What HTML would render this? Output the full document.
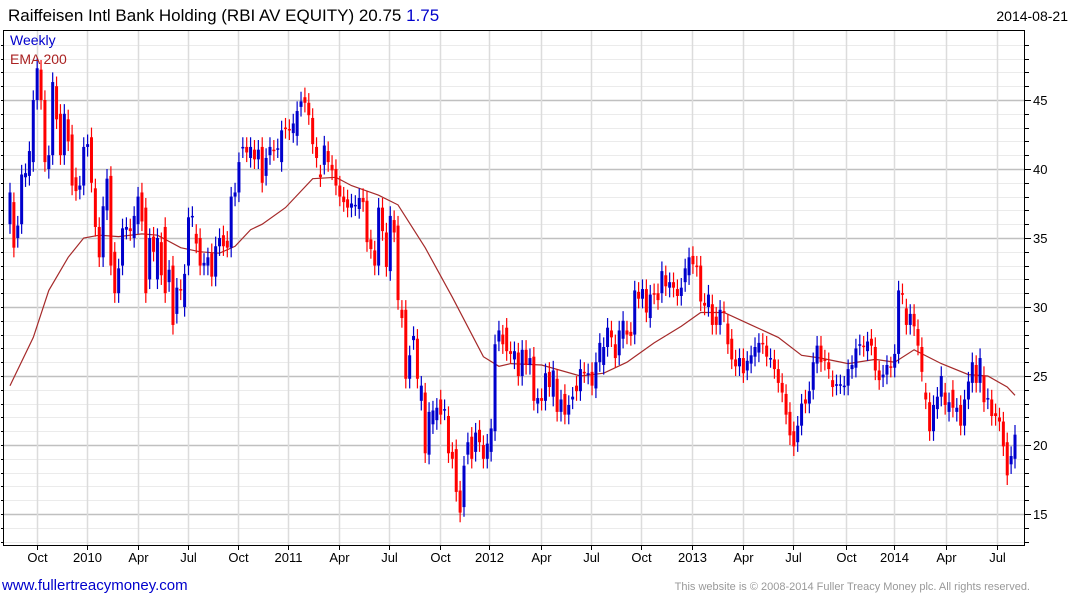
<!DOCTYPE html>
<html><head><meta charset="utf-8"><style>
body{margin:0;background:#fff;width:1075px;height:600px;overflow:hidden;font-family:"Liberation Sans",sans-serif}
#c{position:absolute;left:0;top:0}
</style></head><body>
<svg id="c" width="1075" height="600" font-family="Liberation Sans, sans-serif">
<text x="8" y="21" font-size="17" fill="#000">Raiffeisen Intl Bank Holding (RBI AV EQUITY) 20.75 <tspan fill="#0000cc">1.75</tspan></text>
<text x="1068" y="21" font-size="14" text-anchor="end" fill="#000">2014-08-21</text>
<g id="grid"></g>
<g id="ema"></g>
<g id="candles"></g>
<rect x="3.5" y="30.5" width="1021" height="515" fill="none" stroke="#000"/>
<g id="axes"></g>
<text x="10" y="45" font-size="14" fill="#0000cc">Weekly</text>
<text x="10" y="64" font-size="14" fill="#aa2222">EMA 200</text>
<text x="2" y="590" font-size="15" fill="#0000cc">www.fullertreacymoney.com</text>
<text x="1030" y="590" font-size="11" fill="#999" text-anchor="end">This website is © 2008-2014 Fuller Treacy Money plc. All rights reserved.</text>
</svg>
<script>
const opens=[36,37.6,35,36,39.4,39.5,40.5,45,47.2,45,40,41,46,44,41,43.6,42.5,39.4,38.5,38.8,41.6,42.3,38.6,35.8,33.6,37,39.5,34,31,33,35.6,35.7,35,36,38.3,37.2,32,35.1,32,34.7,35.8,31.8,33,29.5,31.3,30,33,36.5,35.3,35,33,33,33.9,32.2,34.4,35.2,34.8,34.3,38,38.3,41.5,41.6,40.8,41.4,40.7,41.6,39.5,41,41.4,41.5,40.5,43,42.9,42.6,42.4,44.5,45.2,44.8,43.7,41.6,39.6,40.3,41.3,40.3,40,38.8,38,37.8,37.2,37.3,37.1,37.9,37.7,34.9,34.1,33,37.2,35.4,32.6,36.3,35.9,29.8,29.8,24.8,27.6,27.7,23.2,23.8,19.3,21.5,21.8,23.3,22.5,22.1,19.5,19.7,16.7,15.5,19.3,20.6,19.5,21.1,20,19,19.5,21,27.5,28,28.5,26.8,26.2,26.7,25,26.9,25.8,26.4,23,23.4,23.2,25.3,23.5,24.8,22.4,23.7,22.2,23.3,24.3,23.9,25.3,25.1,25.3,24.1,26,25.8,27.1,28.3,27.3,26.5,27.7,28.3,28.2,28,31.1,30.6,31.3,29.2,31,31,31,32.3,31.4,31.8,31.3,30.8,31.8,32.3,33.7,33,33,30.3,30,30.2,29.3,28.7,29.7,28.8,27.7,26.2,25.7,26.3,25.4,25.9,26.4,26.7,27.4,27.2,26.3,26.2,25.5,24.5,23.7,22.4,21,20.2,21.4,23.3,23,24,25.9,27.2,26.2,26,24.7,24.3,24.4,24.3,24.3,25.5,25.6,27.2,27.2,26.8,27.7,27.1,25.4,24.9,25.1,25.7,25.6,26.6,31,29.9,28.7,29.5,28.4,27.1,23.8,23.1,21,22.6,23.5,23.8,22.4,24,22.4,22.9,21.4,23.3,24.5,25.8,24.5,25,23.3,23.3,22.3,22,21.7,20.2,18.6,19];
const closes=[38.3,34.3,35.9,39.6,39.7,41.3,45,47.3,45,40.5,41,46.3,43.6,41,44,42,38.8,38.4,38.8,41.6,41.8,39,35.8,33.6,37.3,39.3,33,31,32.8,35.7,35.8,35.5,36.6,38,36.2,31,35,34,35,32.3,31,32.7,28.7,31.4,31.2,32.4,36.5,36.6,34.6,33,33.2,33.6,32.2,34.4,35,34.4,34.3,38,38.3,40.5,41.6,41.2,41.6,40.7,41.4,39,40.8,41.6,41.3,41.5,42.8,42.9,42.8,43.3,44.2,44.9,44.8,43.9,41.8,40.8,39.4,41.7,40.5,39.9,38.8,38,37.6,37.2,37.5,37.4,37.9,37.6,34.7,34.2,33,37.2,35.5,32.9,36.6,35.4,30.5,29.2,24.8,26.5,27.9,24.8,24.3,19.4,22.4,22.5,22.7,22.2,22.6,19.4,19,16.6,15.1,18.5,20.2,19,20.9,20.2,19,20.1,21.2,27.3,28.3,27.3,26.8,26.6,26.8,25,26.9,25.8,26.3,23.2,23.4,23.2,25.2,24.2,25.4,22.4,23.3,22.2,22.9,23.5,23.9,25.5,25.2,25.2,24.3,26,27.4,27.1,28.5,27.8,26.3,28.3,29,28,27.9,31.2,30.6,31.3,29.6,30.9,30.9,30.5,32.6,31.5,31.8,31.4,30.8,31.4,32.8,33.6,33.1,32.9,30.4,30.1,30.9,28.7,28.7,29.8,29.6,27.3,26.2,25.7,26.3,25.2,26.1,26.5,27.1,27.4,27.3,26.4,26.3,25.5,24.5,23.8,22.2,20.7,19.9,21.4,23,23,23.9,26,27.2,26,26.1,25.5,24.2,24.4,24.4,24.3,25.5,25.8,27,27.3,27.1,27.5,27.2,25.4,24.7,25.1,25.8,25.6,26.6,31.2,30.9,28.7,29.5,28.6,27.2,25.3,23.3,21,22.9,23.5,25,22.9,23.1,22.7,22.7,21.4,23.3,24.6,26,24.5,26.3,23.1,23.4,22.1,22.1,21.7,19.9,17.8,19.2,20.75];
const emaIdx=[0,6,10,15,19,23,28,34,38,44,49,54,58,62,65,71,78,84,88,95,100,107,114,122,126,129,137,147,153,159,166,173,178,184,191,198,204,209,216,223,228,233,240,247,252,257,259];
const emaVals=[24.3,27.8,31.2,33.6,35,35.2,35.1,35.3,35.2,34.3,34,33.9,34.4,35.6,36,37.2,39.3,39.4,38.8,38.1,37.4,34.3,30.7,26.4,25.7,25.9,25.8,25,25.2,26,27.4,28.6,29.6,29.6,28.7,27.8,26.5,26.3,25.9,26.2,26,26.9,25.9,25.1,25,24.2,23.6];
const yTicks=[15,20,25,30,35,40,45];
const xTickIdx=[7,19.9,32.9,45.8,58.7,71.7,84.9,97.8,110.7,123.4,136.9,149.8,162.7,175.7,188.9,201.8,215.5,227.9,241.1,254.3];
const xTickLabels=["Oct","2010","Apr","Jul","Oct","2011","Apr","Jul","Oct","2012","Apr","Jul","Oct","2013","Apr","Jul","Oct","2014","Apr","Jul"];

const NS="http://www.w3.org/2000/svg";
const L=4,R=1025,T=30,B=545;
const n=closes.length;
const xs=i=>10+i*(1005/(n-1));
const ys=p=>514-(p-15)*13.8;
function mk(tag,at,par){const e=document.createElementNS(NS,tag);for(const k in at)e.setAttribute(k,at[k]);par.appendChild(e);return e;}
const grid=document.getElementById('grid'),axes=document.getElementById('axes');
for(let p=13;p<=49;p++){const y=Math.round(ys(p))+0.5;if(y<T||y>B)continue;
 const major=p%5===0;
 const g=mk('line',{x1:L,x2:R,y1:y,y2:y,stroke:major?'#c0c0c0':'#ebebeb','stroke-width':major?1.5:1},grid);
 
 
 const t1=mk('line',{x1:R,x2:R+(major?6:4),y1:y,y2:y,stroke:'#000'},axes);
 
 
 const t2=mk('line',{x1:L,x2:L-3,y1:y,y2:y,stroke:'#000'},axes);
 
 
}
yTicks.forEach(p=>{const t=mk('text',{x:1033,y:ys(p)+5,'font-size':13,fill:'#000'},axes);t.textContent=p;
 
 });
xTickIdx.forEach((ix,k)=>{const x=Math.round(xs(ix))+0.5;
 const g=mk('line',{x1:x,x2:x,y1:T,y2:B,stroke:'#dcdcdc','stroke-width':1.5},grid);
 
 
 const tk=mk('line',{x1:x,x2:x,y1:B,y2:B+5,stroke:'#000'},axes);
 
 
 const t=mk('text',{x:x,y:562,'font-size':13,'text-anchor':'middle',fill:'#000'},axes);t.textContent=xTickLabels[k];
 
 });
const emaG=document.getElementById('ema');
const pe=mk('polyline',{points:emaIdx.map((ix,k)=>xs(ix).toFixed(1)+','+ys(emaVals[k]).toFixed(1)).join(' '),fill:'none',stroke:'#a52a2a','stroke-width':1.2},emaG);


const cg=document.getElementById('candles');
for(let i=0;i<n;i++){const o=opens[i],c=closes[i],up=c>=o,col=up?'#0000cc':'#ff0000';
 const x=xs(i),hi=Math.max(o,c)+0.7,lo=Math.min(o,c)-0.7;
 const w=mk('line',{x1:x,x2:x,y1:ys(hi),y2:ys(lo),stroke:col,'stroke-width':1.2},cg);
 
 
 const yt=ys(Math.max(o,c)),yb=ys(Math.min(o,c));
 const b=mk('rect',{x:x-1.5,y:yt,width:3,height:Math.max(1.5,yb-yt),fill:col},cg);
 
 
}
</script>
</body></html>
